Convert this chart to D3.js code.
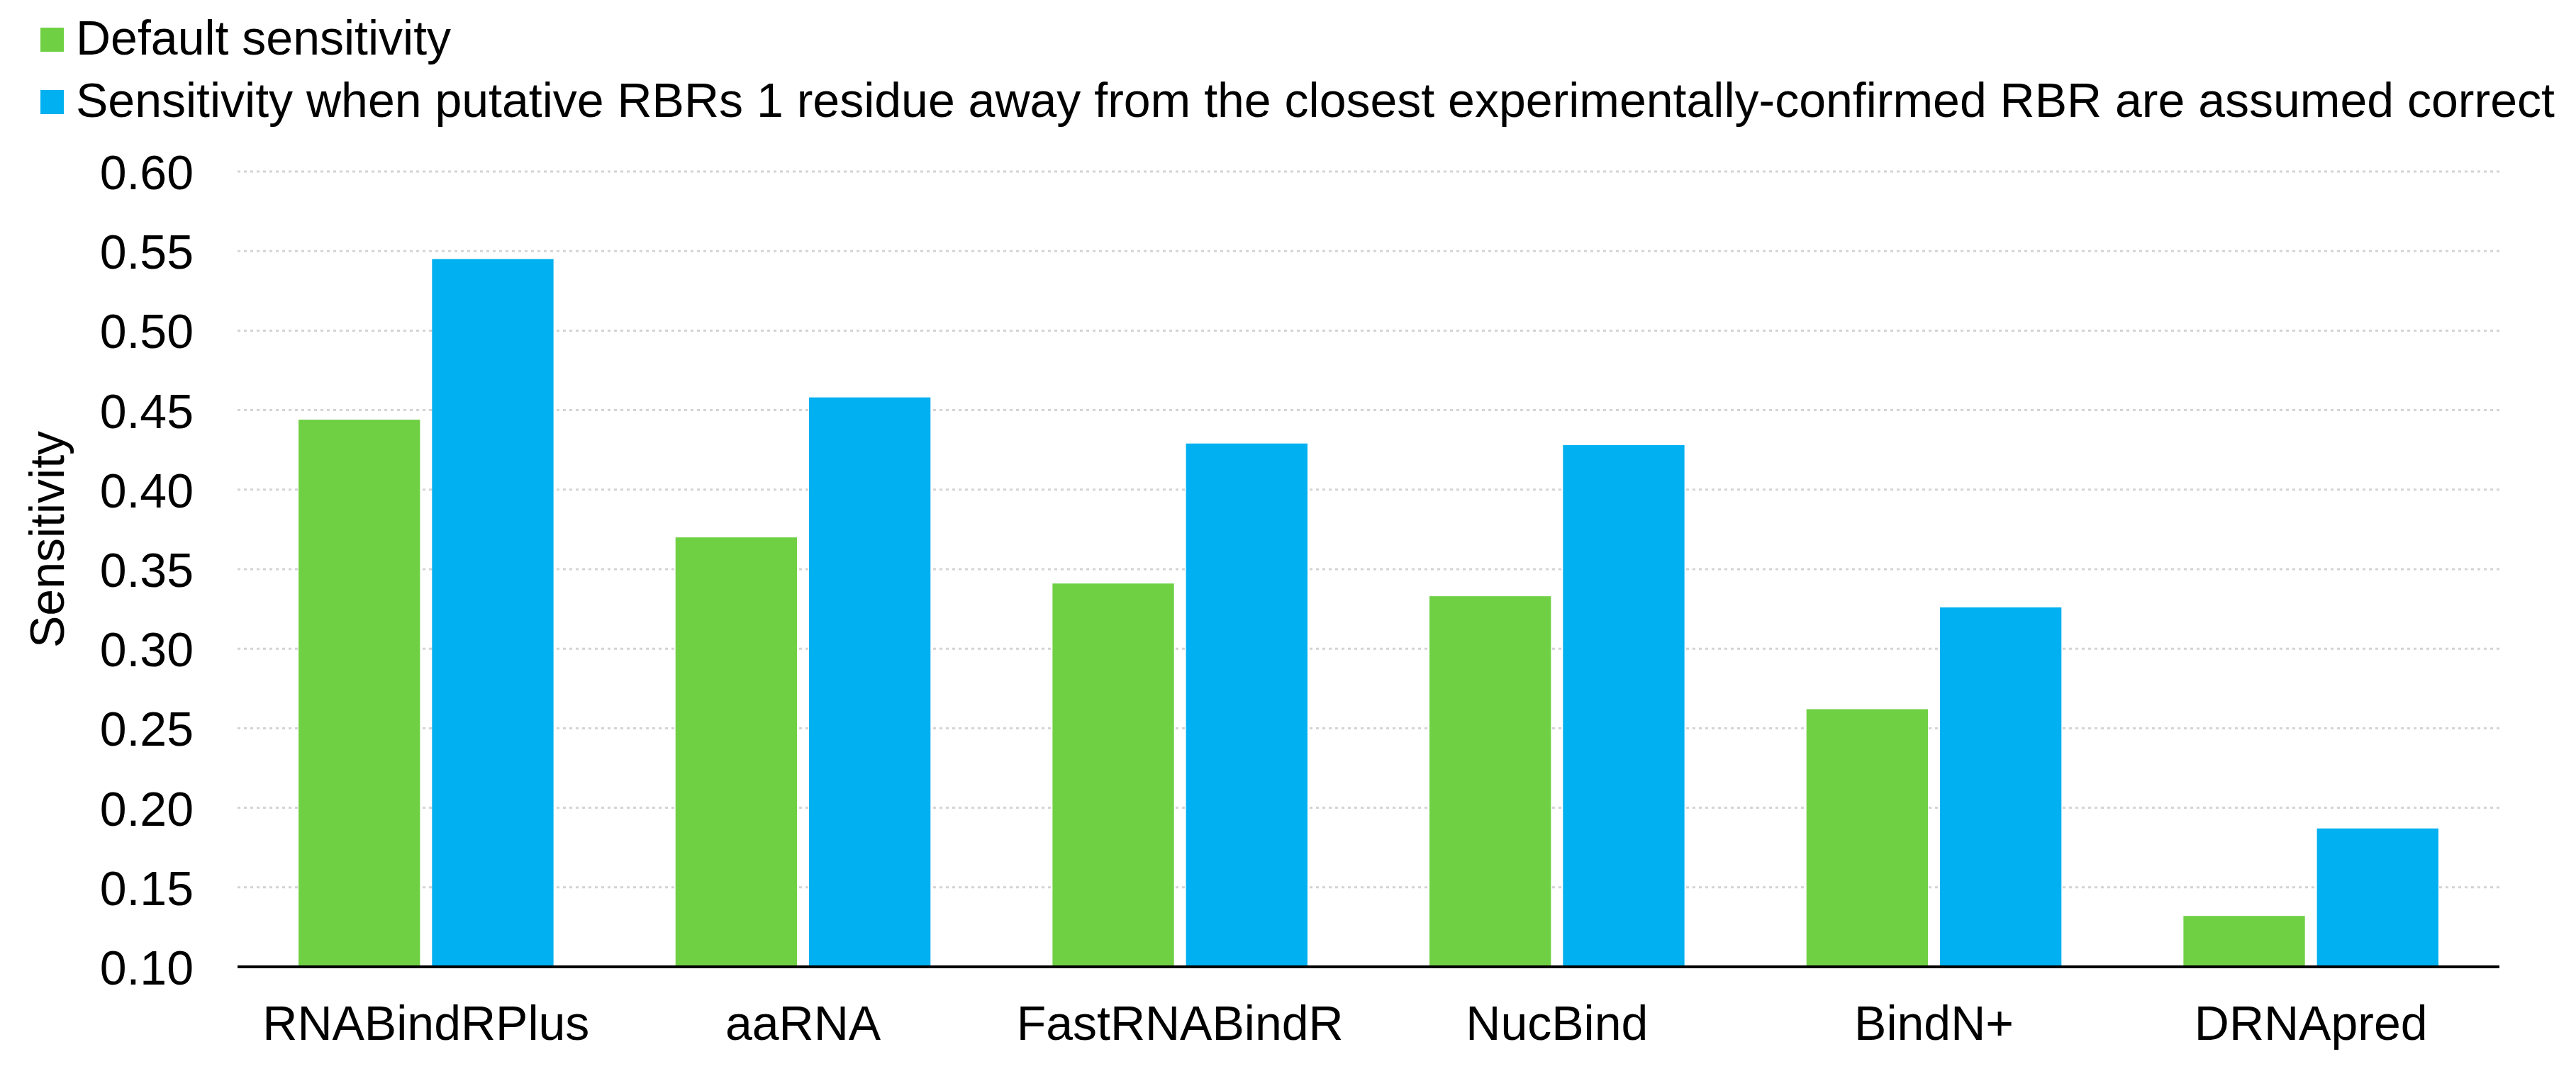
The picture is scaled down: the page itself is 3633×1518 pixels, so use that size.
<!DOCTYPE html>
<html>
<head>
<meta charset="utf-8">
<script src="https://cdn.jsdelivr.net/npm/d3@7"></script>
<style>
  body { margin: 0; background: #fff; }
  text { font-family: "Liberation Sans", Arial, sans-serif; fill: #000; }
</style>
</head>
<body>
<script>
const methods = ["RNABindRPlus", "aaRNA", "FastRNABindR", "NucBind", "BindN+", "DRNApred"];
const seriesNames = [
  "Default sensitivity",
  "Sensitivity when putative RBRs 1 residue away from the closest experimentally-confirmed RBR are assumed correct"
];
const defaultSens = [0.444, 0.370, 0.341, 0.333, 0.262, 0.132];
const relaxedSens = [0.545, 0.458, 0.429, 0.428, 0.326, 0.187];
const yTicks = [0.10, 0.15, 0.20, 0.25, 0.30, 0.35, 0.40, 0.45, 0.50, 0.55, 0.60];
const colors = ["#6fd044", "#00b0f0"];

const width = 3633;
const height = 1518;
const plotLeft = 335, plotRight = 3525, plotTop = 242, plotBottom = 1364;
const fontSize = 68;

const svg = d3.create("svg")
  .attr("width", width)
  .attr("height", height)
  .attr("viewBox", [0, 0, width, height]);

const x0 = d3.scaleBand().domain(methods).range([plotLeft, plotRight]).padding(0);
const x1 = d3.scaleBand().domain([0, 1]).range([0, x0.bandwidth()])
  .paddingInner(0.09).paddingOuter(0.457);
const y = d3.scaleLinear().domain([0.1, 0.6]).range([plotBottom, plotTop]);

// gridlines
svg.append("g")
  .selectAll("line")
  .data(yTicks.slice(1))
  .join("line")
  .attr("x1", plotLeft)
  .attr("x2", plotRight)
  .attr("y1", d => y(d))
  .attr("y2", d => y(d))
  .style("stroke", "#d4d4d4")
  .style("stroke-width", 3)
  .style("stroke-dasharray", "4 5");

// bars
const rows = methods.map((m, i) => ({ method: m, values: [defaultSens[i], relaxedSens[i]] }));
svg.append("g")
  .selectAll("g")
  .data(rows)
  .join("g")
  .attr("transform", d => `translate(${x0(d.method)},0)`)
  .selectAll("rect")
  .data(d => d.values.map((v, k) => ({ k, v })))
  .join("rect")
  .attr("x", d => x1(d.k))
  .attr("width", x1.bandwidth())
  .attr("y", d => y(d.v))
  .attr("height", d => y(0.1) - y(d.v))
  .style("fill", d => colors[d.k]);

// baseline
svg.append("line")
  .attr("x1", plotLeft)
  .attr("x2", plotRight)
  .attr("y1", y(0.1))
  .attr("y2", y(0.1))
  .style("stroke", "#000")
  .style("stroke-width", 4);

// y axis labels
const yAxis = svg.append("g")
  .attr("transform", `translate(273,0)`)
  .call(d3.axisLeft(y).tickValues(yTicks).tickFormat(d3.format(".2f")).tickSize(0).tickPadding(0));
yAxis.select(".domain").remove();
yAxis.selectAll("text")
  .style("font-size", fontSize + "px")
  .style("font-family", "'Liberation Sans', Arial, sans-serif")
  .attr("fill", "#000")
  .attr("dy", "0.36em");

// x axis labels
const xAxis = svg.append("g")
  .attr("transform", `translate(0,${plotBottom})`)
  .call(d3.axisBottom(x0).tickSize(0).tickPadding(0));
xAxis.select(".domain").remove();
xAxis.selectAll("text")
  .style("font-size", fontSize + "px")
  .style("font-family", "'Liberation Sans', Arial, sans-serif")
  .attr("fill", "#000")
  .attr("y", 103)
  .attr("dy", 0);

// y axis title
svg.append("text")
  .attr("transform", `translate(90,761) rotate(-90)`)
  .attr("text-anchor", "middle")
  .style("font-size", fontSize + "px")
  .text("Sensitivity");

// legend
const legend = svg.append("g")
  .selectAll("g")
  .data(seriesNames)
  .join("g")
  .attr("transform", (d, i) => `translate(57,${39 + i * 88})`);
legend.append("rect")
  .attr("width", 33)
  .attr("height", 34)
  .style("fill", (d, i) => colors[i]);
legend.append("text")
  .attr("x", 50)
  .attr("y", 38)
  .style("font-size", fontSize + "px")
  .text(d => d);

d3.select("body").append(() => svg.node());
</script>
</body>
</html>
